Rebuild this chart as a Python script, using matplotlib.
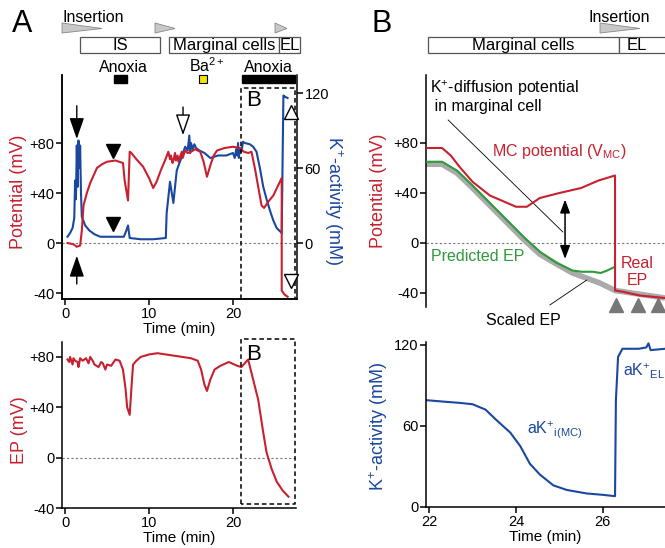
import numpy as np
import matplotlib
matplotlib.use('Agg')
import matplotlib.pyplot as plt
from matplotlib.patches import Polygon, Rectangle

plt.rcParams['font.family'] = ['Liberation Sans', 'DejaVu Sans']
plt.rcParams['mathtext.fontset'] = 'custom'
plt.rcParams['mathtext.rm'] = 'Liberation Sans'
plt.rcParams['mathtext.it'] = 'Liberation Sans:italic'
plt.rcParams['axes.linewidth'] = 1.1
plt.rcParams['xtick.major.width'] = 1.1
plt.rcParams['ytick.major.width'] = 1.1
plt.rcParams['xtick.major.size'] = 4
plt.rcParams['ytick.major.size'] = 4

RED = '#c8202e'
BLUE = '#1a47a0'
GREEN = '#2e9a3c'
GREY = '#aaaaaa'

# ---------------- panel A, top : potential (mV) and K+ activity (mM) ----------------
tA_pot = [0.3, 1.0, 1.4, 1.8, 2.0, 2.2, 2.6, 3.0, 3.8, 4.4, 5.0, 6.0, 6.9, 7.1, 7.5, 7.7,
          7.9, 8.5, 9.3, 10.0, 10.5, 10.9, 11.4, 11.9, 12.3, 12.5, 12.6, 12.8, 12.9, 13.1,
          13.2, 13.4, 13.5, 13.7, 13.9, 14.0, 14.2, 14.3, 14.6, 15.0, 15.5, 16.1, 16.5,
          16.9, 17.3, 17.7, 18.1, 19.0, 20.0, 20.8, 21.3, 21.8, 22.2, 22.6, 23.0, 23.4,
          23.7, 24.2, 24.8, 25.3, 25.8, 25.8, 26.1, 26.5]
A_pot = [0, -1, -3, -2, 10, 30, 40, 48, 60, 63, 65, 66, 64, 50, 34, 73,
         72, 67, 61, 52, 44, 49, 58, 66, 73, 67, 70, 64, 66, 72,
         66, 70, 65, 69, 73, 68, 72, 74, 72, 73, 75, 73, 65,
         53, 62, 70, 74, 76, 77, 76, 73, 72, 73, 60, 45, 30,
         28, 33, 38, 45, 52, -38, -41, -43]

tA_k = [0.3, 0.6, 0.9, 1.1, 1.2, 1.3, 1.4, 1.5, 1.6, 1.7, 1.8, 1.9, 2.0, 2.4, 2.9, 3.5,
        4.2, 5.5, 7.0, 7.3, 7.5, 7.7, 9.0, 10.5, 12.0, 12.1, 12.5, 12.9, 13.3, 13.9,
        14.3, 14.6, 14.8, 14.9, 15.0, 15.2, 15.4, 15.6, 16.0, 16.6, 17.3, 18.2, 19.2,
        20.0, 20.2, 20.4, 20.5, 20.6, 20.7, 20.8, 21.0, 21.2, 21.4, 22.0, 22.4, 22.8,
        23.2, 23.6, 24.0, 24.4, 24.8, 25.2, 25.8, 26.0, 26.2, 26.5]
A_k = [5, 8, 12, 20, 50, 35, 78, 45, 82, 60, 78, 40, 21, 14, 10, 7,
       5, 5, 5, 10, 14, 4, 3, 3, 4, 24, 49, 32, 58, 69,
       77, 74, 86, 72, 80, 75, 79, 76, 74, 72, 68, 70, 70,
       72, 68, 75, 70, 80, 68, 76, 73, 81, 80, 79, 77, 73,
       60, 45, 35, 26, 18, 12, 8, 118, 117, 116]

# ---------------- panel A, bottom : EP (mV) ----------------
tA_ep = [0.3, 0.5, 0.6, 0.9, 1.0, 1.2, 1.5, 1.6, 1.8, 2.1, 2.5, 2.8, 3.0, 3.3, 3.5, 4.0,
         4.3, 4.5, 4.8, 5.0, 5.5, 6.0, 6.5, 6.9, 7.2, 7.4, 7.7, 7.9, 8.1, 8.5, 9.0, 10.0,
         11.0, 12.0, 13.0, 14.0, 15.0, 15.8, 16.2, 16.6, 16.9, 17.3, 17.8, 18.5, 19.5,
         20.5, 21.0, 21.8, 22.4, 23.0, 23.6, 24.0, 24.6, 25.2, 25.9, 26.6]
A_ep = [78, 76, 80, 74, 79, 77, 76, 72, 79, 77, 79, 75, 80, 77, 74, 72,
        76, 75, 70, 74, 73, 78, 77, 70, 55, 40, 34, 55, 74, 77, 80, 82,
        83, 82, 81, 80, 79, 77, 70, 58, 53, 62, 70, 73, 76,
        73, 72, 78, 62, 46, 20, 4, -9, -19, -26, -31]

# ---------------- panel B, top : potentials (mV) ----------------
tB_mc = [21.93, 22.3, 22.5, 22.7, 23.0, 23.4, 23.8, 24.0, 24.25, 24.55, 25.0, 25.5,
         25.9, 26.28, 26.28, 26.46, 26.85, 27.43]
B_mc = [76, 76, 70, 61, 49, 38, 32, 29, 29, 36, 40, 44, 50, 54, -38, -39, -42, -44]

tB_pred = [21.93, 22.3, 22.64, 23.0, 23.4, 23.8, 24.17, 24.55, 24.94, 25.3, 25.5,
           25.77, 25.95, 26.1, 26.28]
B_pred = [65, 65, 58, 46, 32, 18, 5, -7, -16, -22, -23, -23, -24, -22, -19]

tB_scaled = [21.93, 22.3, 22.64, 23.0, 23.4, 23.8, 24.17, 24.55, 24.94, 25.3, 25.93,
             26.28, 26.85, 27.43]
B_scaled = [63, 63, 56, 44, 30, 16, 3, -9, -17, -24, -32, -38, -41, -44]

# ---------------- panel B, bottom : K+ activity (mM) ----------------
tB_k = [21.93, 22.3, 22.7, 23.0, 23.15, 23.3, 23.56, 23.87, 24.1, 24.32, 24.55, 24.86,
        25.17, 25.63, 26.0, 26.28, 26.3, 26.35, 26.45, 26.83, 27.0, 27.05, 27.1, 27.43]
B_k = [79, 78, 77, 76, 74, 72, 64, 55, 45, 32, 24, 16, 12.6, 10, 9, 8, 79, 111, 117,
       117, 118, 121, 116, 117]

fig = plt.figure(figsize=(6.65, 5.48), dpi=100)
W, H = 665.0, 548.0


def rect(l, t, r, b):
    return [l / W, 1 - b / H, (r - l) / W, (b - t) / H]


def style(ax):
    ax.spines['top'].set_visible(False)
    ax.spines['right'].set_visible(False)
    ax.tick_params(direction='out', labelsize=10.5, pad=1.5)


def zero_line(ax):
    ax.axhline(0, color='#777777', lw=0.8, ls=(0, (2, 2)), zorder=0)


# ---- A top ----
axA = fig.add_axes(rect(62, 75, 297, 299))
style(axA)
zero_line(axA)
axA.plot(tA_pot, A_pot, color=RED, lw=1.5, zorder=3)
axA.set_xlim(-0.36, 27.62)
axA.set_ylim(-44.8, 134.4)
axA.set_yticks([80, 40, 0, -40])
axA.set_yticklabels(['+80', '+40', '0', '-40'])
axA.set_xticks([0, 10, 20])
axA.set_xlabel('Time (min)', fontsize=11, labelpad=1)
axA.set_ylabel('Potential (mV)', color=RED, fontsize=13, va='center')
axA.yaxis.set_label_coords(-0.183, 0.48)
axA2 = axA.twinx()
axA2.spines['top'].set_visible(False)
axA2.plot(tA_k, A_k, color=BLUE, lw=1.5, zorder=2)
axA2.set_ylim(-44.8, 134.4)
axA2.set_yticks([0, 60, 120])
axA2.tick_params(direction='out', labelsize=10.5, pad=1.5)
axA2.set_ylabel('K$^{+}$-activity (mM)', color=BLUE, fontsize=13, rotation=270, va='center')
axA2.yaxis.set_label_coords(1.155, 0.44)
axA.set_zorder(axA2.get_zorder() + 1)
axA.patch.set_visible(False)

# dashed window B
axA.plot([20.95, 20.95, 27.38, 27.38], [-44.8, 124, 124, -44.8], color='k', lw=1.1,
         ls=(0, (3, 2)), clip_on=False, zorder=4)
axA.text(21.55, 114, 'B', fontsize=16, va='center', ha='left')
# arrows and markers
axA.annotate('', xy=(1.4, 81), xytext=(1.4, 112),
             arrowprops=dict(arrowstyle='-|>,head_width=0.45,head_length=1.3', color='k', lw=1))
axA.annotate('', xy=(1.4, -8), xytext=(1.4, -35),
             arrowprops=dict(arrowstyle='-|>,head_width=0.45,head_length=1.3', color='k', lw=1))
axA.plot([5.7, 5.7], [74, 15], 'v', color='k', ms=10, ls='none', zorder=5)
axA.annotate('', xy=(14.05, 84), xytext=(14.05, 111),
             arrowprops=dict(arrowstyle='-|>,head_width=0.45,head_length=1.3',
                             fc='white', ec='k', lw=1))
axA.plot([26.9], [105], '^', mfc='white', mec='k', ms=10, mew=1, ls='none', zorder=5,
         clip_on=False)
axA.plot([26.9], [-30], 'v', mfc='white', mec='k', ms=10, mew=1, ls='none', zorder=5,
         clip_on=False)

# ---- A bottom ----
axE = fig.add_axes(rect(62, 342, 296, 508))
style(axE)
zero_line(axE)
axE.plot(tA_ep, A_ep, color=RED, lw=1.5)
axE.set_xlim(-0.36, 27.5)
axE.set_ylim(-40, 91.9)
axE.set_yticks([80, 40, 0, -40])
axE.set_yticklabels(['+80', '+40', '0', '-40'])
axE.set_xticks([0, 10, 20])
axE.set_xlabel('Time (min)', fontsize=11, labelpad=1)
axE.set_ylabel('EP (mV)', color=RED, fontsize=13, va='center')
axE.yaxis.set_label_coords(-0.183, 0.47)
axE.plot([20.95, 20.95, 27.38, 27.38, 20.95], [-36.6, 94.6, 94.6, -36.6, -36.6], color='k',
         lw=1.1, ls=(0, (3, 2)), clip_on=False)
axE.text(21.55, 82, 'B', fontsize=16, va='center', ha='left')

# ---- B top ----
axB = fig.add_axes(rect(426, 75, 665, 307))
style(axB)
axB.spines['bottom'].set_visible(False)
zero_line(axB)
axB.plot(tB_scaled, B_scaled, color=GREY, lw=4, solid_capstyle='butt', zorder=2)
axB.plot(tB_pred, B_pred, color=GREEN, lw=1.5, zorder=3)
axB.plot(tB_mc, B_mc, color=RED, lw=1.5, zorder=4)
axB.set_xlim(21.93, 27.43)
axB.set_ylim(-51.2, 134.4)
axB.set_xticks([])
axB.set_yticks([80, 40, 0, -40])
axB.set_yticklabels(['+80', '+40', '0', '-40'])
axB.set_ylabel('Potential (mV)', color=RED, fontsize=13, va='center')
axB.yaxis.set_label_coords(-0.197, 0.50)
axB.text(22.02, 124, 'K$^{+}$-diffusion potential', fontsize=11.5, va='center', ha='left')
axB.text(22.02, 109, ' in marginal cell', fontsize=11.5, va='center', ha='left')
axB.plot([22.44, 25.08], [98.4, 8.8], color='k', lw=0.6)
axB.annotate('', xy=(25.13, -15), xytext=(25.13, 37),
             arrowprops=dict(arrowstyle='<|-|>,head_width=0.3,head_length=0.8', color='k', lw=1.1))
axB.text(23.45, 73, 'MC potential (V$_{\\mathrm{MC}}$)', color=RED, fontsize=11.5, va='center')
axB.text(22.05, -11, 'Predicted EP', color=GREEN, fontsize=11.5, va='center')
axB.text(26.8, -23, 'Real\nEP', color=RED, fontsize=11.5, va='center', ha='center',
         linespacing=1.15)
axB.text(24.18, -62, 'Scaled EP', color='k', fontsize=11.5, va='center', ha='center',
         clip_on=False)
axB.plot([24.78, 25.63], [-49.6, -29.6], color='k', lw=0.6, clip_on=False)
axB.plot([26.30, 26.80, 27.26], [-49.6, -49.6, -49.6], '^', color='#777777', ms=10,
         ls='none', clip_on=False)

# ---- B bottom ----
axK = fig.add_axes(rect(426, 342, 665, 507))
style(axK)
axK.plot(tB_k, B_k, color=BLUE, lw=1.5)
axK.set_xlim(21.93, 27.43)
axK.set_ylim(0, 122)
axK.set_yticks([0, 60, 120])
axK.set_xticks([22, 24, 26])
axK.set_xlabel('Time (min)', fontsize=11, labelpad=1)
axK.set_ylabel('K$^{+}$-activity (mM)', color=BLUE, fontsize=13, va='center')
axK.yaxis.set_label_coords(-0.2, 0.485)
axK.text(24.25, 57, 'aK$^{+}$$_{\\mathrm{i(MC)}}$', color=BLUE, fontsize=11.5, va='center')
axK.text(26.46, 100, 'aK$^{+}$$_{\\mathrm{EL}}$', color=BLUE, fontsize=11.5, va='center')

# ---- header diagrams (pixel coordinates) ----
ov = fig.add_axes([0, 0, 1, 1], zorder=10)
ov.set_xlim(0, W)
ov.set_ylim(H, 0)
ov.axis('off')
ov.patch.set_visible(False)

ov.text(12, 24, 'A', fontsize=22, va='center', ha='left')
ov.text(372, 24, 'B', fontsize=22, va='center', ha='left')

wedges = [(62, 23, 33, 102), (155, 23, 33, 175), (275, 23, 33, 287), (600, 23, 33, 640)]
for x0, y0, y1, x1 in wedges:
    ov.add_patch(Polygon([(x0, y0), (x0, y1), (x1, 28.5)], closed=True, fc='#c8c8c8',
                         ec='#888888', lw=0.6))
ov.text(62, 17, 'Insertion', fontsize=11.5, va='center', ha='left')
ov.text(589, 17, 'Insertion', fontsize=11.5, va='center', ha='left')

boxes = [(80, 160, 'IS'), (169, 279, 'Marginal cells'), (279, 300, 'EL'),
         (428, 619, 'Marginal cells'), (619, 672, 'EL')]
for l, r, lab in boxes:
    ov.add_patch(Rectangle((l, 37), r - l, 16, fc='white', ec='#555555', lw=0.9,
                           clip_on=False))
    cx = (l + r) / 2 if lab != 'EL' or r < 600 else 637
    ov.text(cx, 45.5, lab, fontsize=12, va='center', ha='center')

ov.text(123, 67, 'Anoxia', fontsize=11.5, va='center', ha='center')
ov.add_patch(Rectangle((114, 75), 13, 8, fc='k', ec='k'))
ov.text(207, 66, 'Ba$^{2+}$', fontsize=11.5, va='center', ha='center')
ov.add_patch(Rectangle((199, 75), 8, 8, fc='#f5e400', ec='k', lw=0.8))
ov.text(268, 67, 'Anoxia', fontsize=11.5, va='center', ha='center')
ov.add_patch(Rectangle((242, 75), 53, 8, fc='k', ec='k'))

fig.savefig('out.png', dpi=100)
